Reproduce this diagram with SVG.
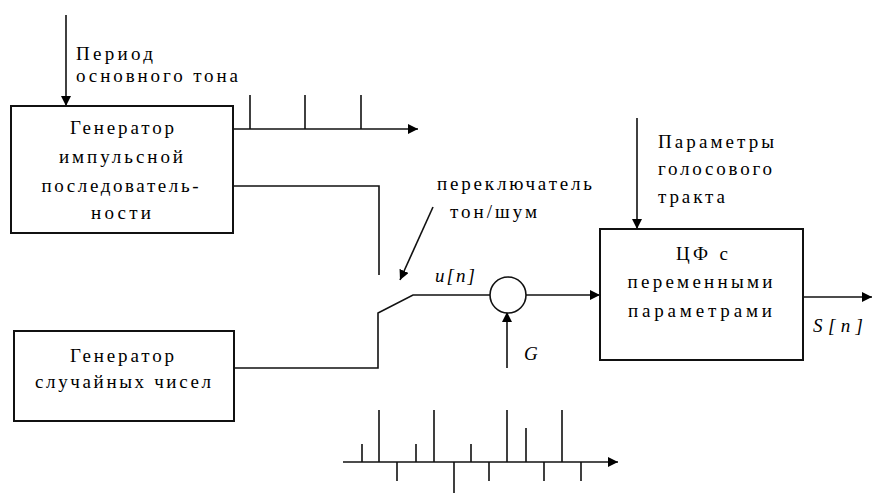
<svg xmlns="http://www.w3.org/2000/svg" width="874" height="493" viewBox="0 0 874 493">
<defs>
<marker id="ah" viewBox="0 0 10 10" refX="10" refY="5" markerWidth="10" markerHeight="10" markerUnits="userSpaceOnUse" orient="auto">
<path d="M0,0 L10,5 L0,10 Z" fill="#000"/>
</marker>
<style>
.box{fill:#fff;stroke:#111;stroke-width:2}
.ln{fill:none;stroke:#111;stroke-width:1.6}
.ar{fill:none;stroke:#111;stroke-width:1.6;marker-end:url(#ah)}
</style>
</defs>
<rect width="874" height="493" fill="#fff"/>
<g id="connectors">
<line class="ar" x1="66" y1="15" x2="66" y2="106"/>
<line class="ar" x1="233" y1="129" x2="418" y2="129"/>
<line class="ln" x1="250" y1="95" x2="250" y2="129"/>
<line class="ln" x1="305" y1="95" x2="305" y2="129"/>
<line class="ln" x1="361" y1="95" x2="361" y2="129"/>
<polyline class="ln" points="233,186 379,186 379,275"/>
<polyline class="ln" points="234,368 378,368 378,313 413,295 490,295"/>
<line class="ar" x1="433" y1="207" x2="400" y2="280"/>
<line class="ar" x1="507" y1="368" x2="507" y2="312"/>
<line class="ar" x1="526" y1="295" x2="600" y2="295"/>
<line class="ar" x1="637" y1="118" x2="637" y2="229"/>
<line class="ar" x1="803" y1="297" x2="872" y2="297"/>
<line class="ar" x1="343" y1="462" x2="618" y2="462"/>
<path class="ln" d="M362,462V444 M379,462V410 M397,462V481 M416,462V444 M434,462V410 M454,462V493 M471,462V444 M489,462V481 M507,462V410 M526,462V428 M544,462V481 M562,462V410 M581,462V481"/>
</g>
<g id="label-period">
<text x="76" y="60" font-family="Liberation Serif, Times New Roman, serif" font-size="19" textLength="77" lengthAdjust="spacing">Период</text>
<text x="76" y="82" font-family="Liberation Serif, Times New Roman, serif" font-size="19" textLength="162" lengthAdjust="spacing">основного тона</text>
</g>
<g id="pulse-generator">
<rect class="box" x="11" y="106" width="222" height="127"/>
<text x="122" y="134" font-family="Liberation Serif, Times New Roman, serif" font-size="19" text-anchor="middle" textLength="104" lengthAdjust="spacing">Генератор</text>
<text x="121" y="163" font-family="Liberation Serif, Times New Roman, serif" font-size="19" text-anchor="middle" textLength="124" lengthAdjust="spacing">импульсной</text>
<text x="120" y="192" font-family="Liberation Serif, Times New Roman, serif" font-size="19" text-anchor="middle" textLength="157" lengthAdjust="spacing">последователь-</text>
<text x="121" y="219" font-family="Liberation Serif, Times New Roman, serif" font-size="19" text-anchor="middle" textLength="60" lengthAdjust="spacing">ности</text>
</g>
<g id="noise-generator">
<rect class="box" x="14" y="331" width="220" height="90"/>
<text x="122" y="362" font-family="Liberation Serif, Times New Roman, serif" font-size="19" text-anchor="middle" textLength="104" lengthAdjust="spacing">Генератор</text>
<text x="123" y="388" font-family="Liberation Serif, Times New Roman, serif" font-size="19" text-anchor="middle" textLength="176" lengthAdjust="spacing">случайных чисел</text>
</g>
<g id="label-switch">
<text x="437" y="190" font-family="Liberation Serif, Times New Roman, serif" font-size="19" textLength="155" lengthAdjust="spacing">переключатель</text>
<text x="450" y="218" font-family="Liberation Serif, Times New Roman, serif" font-size="19" textLength="87" lengthAdjust="spacing">тон/шум</text>
</g>
<g id="label-un">
<text x="435" y="282" font-family="Liberation Serif, Times New Roman, serif" font-size="19" font-style="italic" textLength="40" lengthAdjust="spacing">u[n]</text>
</g>
<g id="multiplier">
<circle cx="508" cy="295" r="18" fill="#fff" stroke="#111" stroke-width="1.6"/>
</g>
<g id="label-G">
<text x="524" y="360" font-family="Liberation Serif, Times New Roman, serif" font-size="19" font-style="italic">G</text>
</g>
<g id="label-params">
<text x="658" y="148" font-family="Liberation Serif, Times New Roman, serif" font-size="19" textLength="116" lengthAdjust="spacing">Параметры</text>
<text x="658" y="175" font-family="Liberation Serif, Times New Roman, serif" font-size="19" textLength="114" lengthAdjust="spacing">голосового</text>
<text x="658" y="203" font-family="Liberation Serif, Times New Roman, serif" font-size="19" textLength="67" lengthAdjust="spacing">тракта</text>
</g>
<g id="filter">
<rect class="box" x="600" y="229" width="203" height="131"/>
<text x="702" y="260" font-family="Liberation Serif, Times New Roman, serif" font-size="19" text-anchor="middle" textLength="52" lengthAdjust="spacing">ЦФ с</text>
<text x="700" y="288" font-family="Liberation Serif, Times New Roman, serif" font-size="19" text-anchor="middle" textLength="145" lengthAdjust="spacing">переменными</text>
<text x="700" y="317" font-family="Liberation Serif, Times New Roman, serif" font-size="19" text-anchor="middle" textLength="144" lengthAdjust="spacing">параметрами</text>
</g>
<g id="label-Sn">
<text x="813" y="332" font-family="Liberation Serif, Times New Roman, serif" font-size="19" font-style="italic" textLength="50" lengthAdjust="spacing">S[n]</text>
</g>
</svg>
